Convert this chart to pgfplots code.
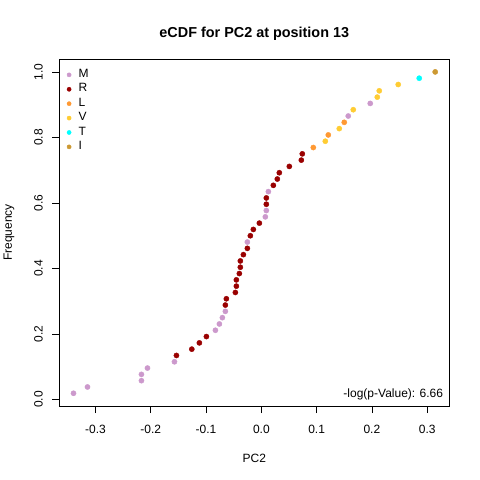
\documentclass[border=0pt]{standalone}
\usepackage{fontspec}
\setmainfont{Liberation Sans}
\usepackage{pgfplots}
\pgfplotsset{compat=1.18}
\definecolor{cM}{RGB}{204,153,204}
\definecolor{cR}{RGB}{153,0,0}
\definecolor{cL}{RGB}{255,153,51}
\definecolor{cV}{RGB}{255,204,51}
\definecolor{cT}{RGB}{0,255,255}
\definecolor{cI}{RGB}{204,153,51}
\newcommand{\fs}{\fontsize{12bp}{14.4bp}\selectfont}
\begin{document}
\begin{tikzpicture}
\path[use as bounding box] (0,0) rectangle (480bp,480bp);
\begin{axis}[
  at={(59.3bp,74bp)}, anchor=south west,
  scale only axis, width=390bp, height=346.7bp,
  xmin=-0.3655, xmax=0.3400, ymin=-0.0196, ymax=1.0385,
  axis line style={line width=0.75bp},
  every tick/.style={line width=0.75bp, black},
  tick align=outside, major tick length=7bp,
  xtick pos=bottom, ytick pos=left,
  xtick={-0.3,-0.2,-0.1,0,0.1,0.2,0.3},
  xticklabels={-0.3,-0.2,-0.1,0.0,0.1,0.2,0.3},
  ytick={0,0.2,0.4,0.6,0.8,1.0},
  yticklabels={0.0,0.2,0.4,0.6,0.8,1.0},
  xticklabel style={font=\fs, anchor=base, inner sep=0pt, yshift=-20.3bp},
  yticklabel style={font=\fs, rotate=90, anchor=base, inner sep=0pt, yshift=9.6bp},
  every axis title shift=0pt,
  title={eCDF for PC2 at position 13},
  title style={font=\bfseries\fontsize{14.4bp}{17bp}\selectfont, at={(axis description cs:0.5,1.0643)}, anchor=base, inner sep=0pt},
  xlabel={PC2},
  xlabel style={font=\fs, at={(axis description cs:0.5,-0.1624)}, anchor=base, inner sep=0pt},
  ylabel={Frequency},
  ylabel style={font=\fs, at={(axis description cs:-0.1213,0.5)}, anchor=base, inner sep=0pt},
  every axis plot/.append style={only marks, mark=*, mark size=2.6bp},
  legend image code/.code={\draw[#1, mark size=2.1bp] plot coordinates {(0bp,0bp)};},
  legend cell align=left,
  legend style={draw=none, fill=none, inner sep=0pt, font=\fs,
    at={(axis description cs:0.01923,0.9764)}, anchor=north west,
    row sep=0pt, column sep=7.5bp,
    nodes={inner sep=0pt, text height=9.8bp, text depth=4.6bp}},
]
\addplot[cM, mark options={draw=cM, fill=cM}] table {
x y
-0.3398 0.01923
-0.3145 0.03846
-0.2169 0.05769
-0.2169 0.07692
-0.2060 0.09615
-0.1572 0.11538
-0.0831 0.21154
-0.0759 0.23077
-0.0705 0.25
-0.0651 0.26923
-0.0253 0.48077
0.0072 0.55769
0.0090 0.57692
0.0127 0.63462
0.1572 0.86538
0.1970 0.90385
};
\addlegendentry{M}
\addplot[cR, mark options={draw=cR, fill=cR}] table {
x y
-0.1536 0.13462
-0.1258 0.15385
-0.1121 0.17308
-0.0994 0.19231
-0.0651 0.28846
-0.0633 0.30769
-0.0470 0.32692
-0.0452 0.34615
-0.0452 0.36538
-0.0398 0.38462
-0.0380 0.40385
-0.0380 0.42308
-0.0325 0.44231
-0.0253 0.46154
-0.0199 0.5
-0.0145 0.51923
-0.0036 0.53846
0.0090 0.59615
0.0090 0.61538
0.0217 0.65385
0.0289 0.67308
0.0325 0.69231
0.0506 0.71154
0.0723 0.73077
0.0741 0.75
};
\addlegendentry{R}
\addplot[cL, mark options={draw=cL, fill=cL}] table {
x y
0.0940 0.76923
0.1211 0.80769
0.1500 0.84615
};
\addlegendentry{L}
\addplot[cV, mark options={draw=cV, fill=cV}] table {
x y
0.1157 0.78846
0.1410 0.82692
0.1663 0.88462
0.2097 0.92308
0.2133 0.94231
0.2476 0.96154
};
\addlegendentry{V}
\addplot[cT, mark options={draw=cT, fill=cT}] table {
x y
0.2856 0.98077
};
\addlegendentry{T}
\addplot[cI, mark options={draw=cI, fill=cI}] table {
x y
0.3145 1.0
};
\addlegendentry{I}
\node[font=\fs, anchor=base east, inner sep=0pt] at (axis description cs:0.9846,0.0234) {-log(p-Value): 6.66};
\end{axis}
\end{tikzpicture}
\end{document}
